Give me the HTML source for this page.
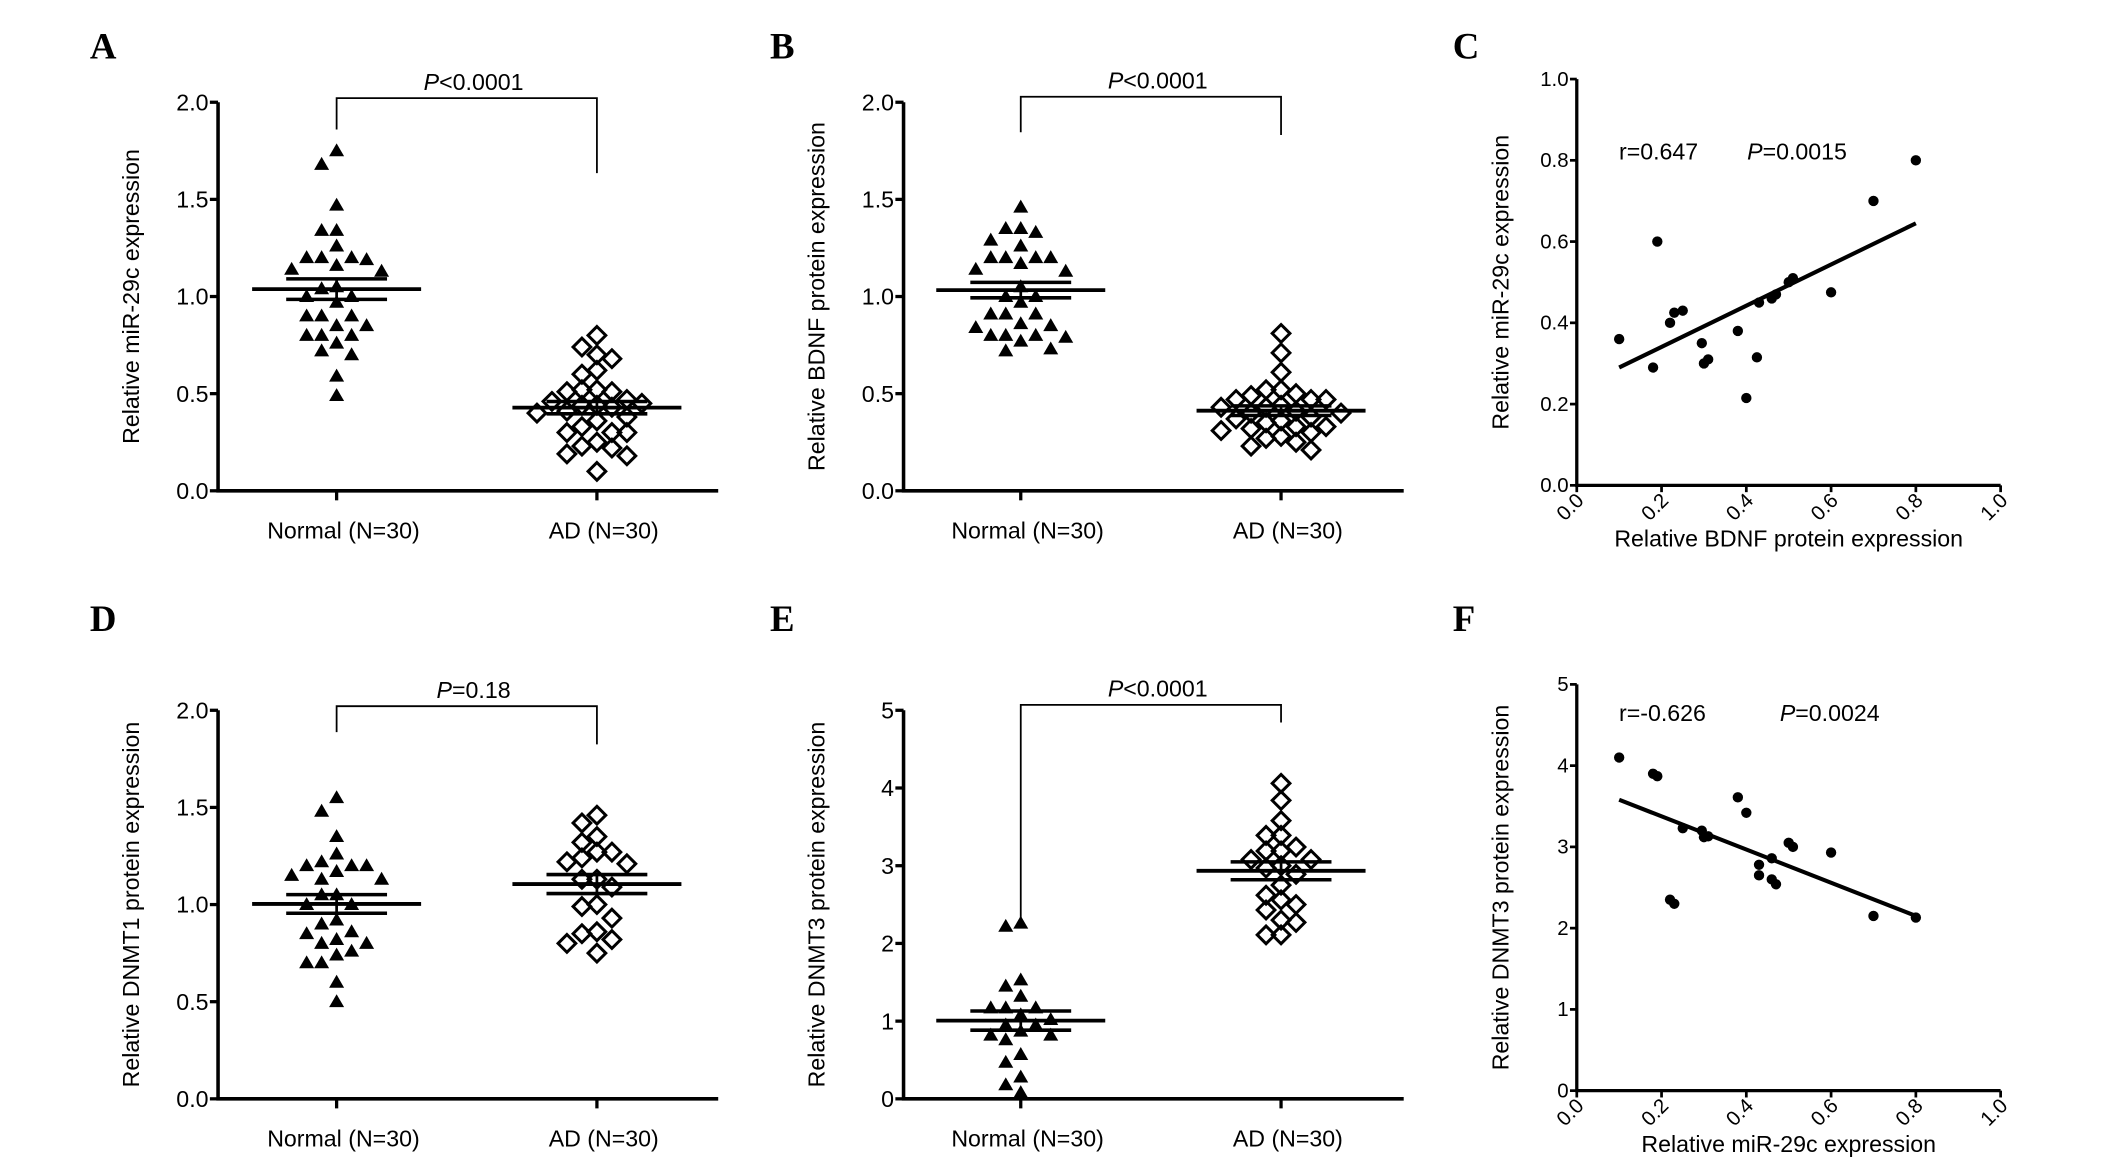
<!DOCTYPE html>
<html><head><meta charset="utf-8">
<style>
html,body{margin:0;padding:0;background:#fff;}
svg{display:block;}
text{font-family:"Liberation Sans",Arial,sans-serif;fill:#000;}
.lbl{font-family:"Liberation Serif",serif;font-weight:bold;font-size:27px;}
</style></head>
<body>
<svg id="fig" width="2126" height="1167" viewBox="0 0 1560 856" preserveAspectRatio="none" xmlns="http://www.w3.org/2000/svg">
<text class="lbl" x="66" y="43">A</text>
<text class="lbl" x="565" y="43">B</text>
<text class="lbl" x="1066" y="43">C</text>
<text class="lbl" x="66" y="463">D</text>
<text class="lbl" x="565" y="463">E</text>
<text class="lbl" x="1066" y="463">F</text>
</svg>
<script>
// ---- data ----
const categories = ["Normal (N=30)", "AD (N=30)"];
const aNormal = [1.75,1.68,1.47,1.34,1.34,1.26,1.20,1.20,1.20,1.19,1.16,1.14,1.13,1.05,1.04,1.00,1.00,0.97,0.90,0.90,0.90,0.85,0.85,0.80,0.80,0.80,0.76,0.72,0.70,0.59,0.49];
const aAD = [0.80,0.74,0.70,0.68,0.62,0.60,0.52,0.51,0.51,0.52,0.47,0.46,0.45,0.44,0.44,0.43,0.41,0.40,0.38,0.36,0.33,0.30,0.30,0.30,0.25,0.23,0.22,0.19,0.18,0.10];
const bNormal = [1.46,1.35,1.35,1.33,1.29,1.26,1.20,1.20,1.20,1.20,1.17,1.13,1.14,1.05,1.00,1.00,0.97,0.91,0.91,0.91,0.85,0.86,0.84,0.80,0.80,0.80,0.79,0.77,0.73,0.72];
const bAD = [0.81,0.71,0.61,0.52,0.52,0.50,0.49,0.47,0.47,0.47,0.44,0.43,0.43,0.41,0.40,0.40,0.38,0.37,0.36,0.35,0.33,0.33,0.32,0.31,0.30,0.28,0.27,0.25,0.23,0.21];
const dNormal = [1.55,1.48,1.35,1.26,1.22,1.20,1.20,1.20,1.17,1.15,1.13,1.13,1.05,1.05,1.00,1.00,0.92,0.90,0.86,0.85,0.82,0.80,0.80,0.76,0.74,0.70,0.70,0.60,0.50];
const dAD = [1.46,1.42,1.35,1.32,1.27,1.27,1.24,1.22,1.21,1.13,1.13,1.09,1.00,0.99,0.93,0.86,0.85,0.82,0.80,0.75];
const eNormal = [2.26,2.22,1.53,1.45,1.32,1.17,1.17,1.17,1.08,1.02,0.95,0.95,0.87,0.82,0.82,0.76,0.57,0.47,0.28,0.18,0.08];
const eAD = [4.06,3.84,3.58,3.39,3.39,3.24,3.19,3.19,3.08,3.08,3.00,2.97,2.89,2.75,2.62,2.56,2.50,2.43,2.30,2.27,2.11,2.11];
const cX = [0.10,0.18,0.19,0.22,0.23,0.25,0.295,0.30,0.31,0.38,0.40,0.425,0.43,0.46,0.47,0.50,0.51,0.60,0.70,0.80];
const cY = [0.36,0.29,0.60,0.40,0.425,0.43,0.35,0.30,0.31,0.38,0.215,0.315,0.45,0.46,0.47,0.50,0.51,0.475,0.70,0.80];
const cFit = [[0.10,0.29],[0.80,0.645]];
const fX = [0.10,0.18,0.19,0.25,0.295,0.30,0.31,0.22,0.23,0.38,0.40,0.43,0.43,0.46,0.46,0.47,0.50,0.51,0.60,0.70,0.80];
const fY = [4.10,3.90,3.87,3.23,3.20,3.12,3.13,2.35,2.30,3.61,3.42,2.78,2.65,2.86,2.60,2.54,3.05,3.00,2.93,2.15,2.13];
const fFit = [[0.10,3.58],[0.80,2.15]];
const ticks2 = ["0.0","0.5","1.0","1.5","2.0"];
const ticks5 = ["0","1","2","3","4","5"];
const ticks1 = ["0.0","0.2","0.4","0.6","0.8","1.0"];

const NS = "http://www.w3.org/2000/svg";
const svg = document.getElementById('fig');
function mk(tag, attrs, parent) {
  const e = document.createElementNS(NS, tag);
  for (const k in attrs) e.setAttribute(k, attrs[k]);
  (parent || svg).appendChild(e);
  return e;
}
function txt(x, y, s, size, anchor, parent) {
  const t = mk('text', {x: x, y: y, 'font-size': size, 'text-anchor': anchor || 'middle'}, parent);
  t.textContent = s;
  return t;
}

function dotPlot(cfg) {
  const g = mk('g', {});
  
  
  const y = v => cfg.y0 - (v - cfg.min) / (cfg.max - cfg.min) * (cfg.y0 - cfg.yTop);
  const ax = mk('path', {d: `M${cfg.x0},${cfg.yTop} V${cfg.y0} H${cfg.xEnd}`, stroke: '#000', 'stroke-width': 2.6, fill: 'none'}, g);
  
  
  cfg.ticks.forEach(function(lab, i) {
    const v = cfg.min + i * (cfg.max - cfg.min) / (cfg.ticks.length - 1);
    mk('line', {x1: cfg.x0 - 6, x2: cfg.x0, y1: y(v), y2: y(v), stroke: '#000', 'stroke-width': 2.4}, g);
    const t = txt(cfg.x0 - 7, y(v) + 6, lab, 17, 'end', g);
    
    
  });
  const yt = txt(0, 0, cfg.ytitle, 17, 'middle', g);
  yt.setAttribute('transform', `translate(${cfg.x0 - 58},${(cfg.y0 + cfg.yTop) / 2}) rotate(-90)`);
  
  
  const groups = [cfg.g1, cfg.g2];
  groups.forEach(function(vals, gi) {
    const cx = cfg.cats[gi];
    mk('line', {x1: cx, x2: cx, y1: cfg.y0, y2: cfg.y0 + 7, stroke: '#000', 'stroke-width': 2.4}, g);
    const cl = txt(cx + 5, cfg.y0 + 35, categories[gi], 17, 'middle', g);
    
    
    const placed = [];
    const sorted = vals.slice().sort((a, b) => b - a);
    sorted.forEach(function(v) {
      const py = y(v);
      let off = 0;
      for (let k = 0; k < 20; k++) {
        const cand = (k === 0) ? 0 : ((k % 2 ? -1 : 1) * Math.ceil(k / 2) * 11);
        if (!placed.some(p => Math.abs(p[0] - cand) < 10 && Math.abs(p[1] - py) < 10)) { off = cand; break; }
      }
      placed.push([off, py]);
      const px = cx + off;
      let m;
      if (gi === 0) {
        m = mk('path', {d: `M${px},${py - 5.5} L${px + 5.5},${py + 4} L${px - 5.5},${py + 4} Z`, fill: '#000'}, g);
        
      } else {
        m = mk('path', {d: `M${px},${py - 6.5} L${px + 6.5},${py} L${px},${py + 6.5} L${px - 6.5},${py} Z`, fill: 'none', stroke: '#000', 'stroke-width': 2.2}, g);
        
      }
      
    });
    const n = vals.length;
    const mean = vals.reduce((a, b) => a + b, 0) / n;
    const sd = Math.sqrt(vals.reduce((a, b) => a + (b - mean) * (b - mean), 0) / (n - 1));
    const sem = sd / Math.sqrt(n);
    const ml = mk('line', {x1: cx - 62, x2: cx + 62, y1: y(mean), y2: y(mean), stroke: '#000', 'stroke-width': 2.8}, g);
    
    
    [mean + sem, mean - sem].forEach(function(v) {
      const sl = mk('line', {x1: cx - 37, x2: cx + 37, y1: y(v), y2: y(v), stroke: '#000', 'stroke-width': 2.6}, g);
      
      
    });
    mk('line', {x1: cx, x2: cx, y1: y(mean + sem), y2: y(mean - sem), stroke: '#000', 'stroke-width': 2}, g);
  });
  const br = mk('path', {d: `M${cfg.cats[0]},${cfg.bl} V${cfg.by} H${cfg.cats[1]} V${cfg.brr}`, stroke: '#000', 'stroke-width': 1.3, fill: 'none'}, g);
  
  
  const pt = mk('text', {x: (cfg.cats[0] + cfg.cats[1]) / 2 + 5, y: cfg.by - 6, 'font-size': 17, 'text-anchor': 'middle'}, g);
  
  
  const ts = mk('tspan', {'font-style': 'italic'}, pt); ts.textContent = 'P';
  const ts2 = mk('tspan', {}, pt); ts2.textContent = cfg.p;
}

function scatter(cfg) {
  const g = mk('g', {});
  
  
  const x = v => cfg.x0 + v * (cfg.xEnd - cfg.x0);
  const y = v => cfg.y0 - v / cfg.ymax * (cfg.y0 - cfg.yTop);
  const ax = mk('path', {d: `M${cfg.x0},${cfg.yTop} V${cfg.y0} H${cfg.xEnd}`, stroke: '#000', 'stroke-width': 2.4, fill: 'none'}, g);
  
  
  cfg.yticks.forEach(function(lab, i) {
    const v = i * cfg.ymax / (cfg.yticks.length - 1);
    mk('line', {x1: cfg.x0 - 5, x2: cfg.x0, y1: y(v), y2: y(v), stroke: '#000', 'stroke-width': 2}, g);
    const t = txt(cfg.x0 - 6, y(v) + 5, lab, 15, 'end', g);
    
    
  });
  ticks1.forEach(function(lab, i) {
    const v = i / (ticks1.length - 1);
    mk('line', {x1: x(v), x2: x(v), y1: cfg.y0, y2: cfg.y0 + 5, stroke: '#000', 'stroke-width': 2}, g);
    const t = txt(0, 0, lab, 15, 'end', g);
    t.setAttribute('transform', `translate(${x(v) + 6},${cfg.y0 + 12}) rotate(-45)`);
    
    
  });
  const yt = txt(0, 0, cfg.ytitle, 17, 'middle', g);
  yt.setAttribute('transform', `translate(${cfg.x0 - 50},${(cfg.y0 + cfg.yTop) / 2}) rotate(-90)`);
  
  
  const xt = txt((cfg.x0 + cfg.xEnd) / 2, cfg.y0 + 45, cfg.xtitle, 17, 'middle', g);
  
  
  const fl = mk('line', {x1: x(cfg.fit[0][0]), y1: y(cfg.fit[0][1]), x2: x(cfg.fit[1][0]), y2: y(cfg.fit[1][1]), stroke: '#000', 'stroke-width': 3}, g);
  
  
  cfg.xs.forEach(function(xv, i) {
    const c = mk('circle', {cx: x(xv), cy: y(cfg.ys[i]), r: 3.8, fill: '#000'}, g);
    
    
  });
  const rt = txt(cfg.x0 + 31, cfg.statY, cfg.r, 17, 'start', g);
  
  
  const pt = mk('text', {x: cfg.pX, y: cfg.statY, 'font-size': 17}, g);
  
  
  const ts = mk('tspan', {'font-style': 'italic'}, pt); ts.textContent = 'P';
  const ts2 = mk('tspan', {}, pt); ts2.textContent = cfg.p;
}

dotPlot({name: 'panel-a', x0: 160, xEnd: 527, y0: 360, yTop: 75, min: 0, max: 2, ticks: ticks2, cats: [247, 438], g1: aNormal, g2: aAD, ytitle: 'Relative miR-29c expression', by: 72, bl: 95, brr: 127, p: '<0.0001'});
dotPlot({name: 'panel-b', x0: 663, xEnd: 1030, y0: 360, yTop: 75, min: 0, max: 2, ticks: ticks2, cats: [749, 940], g1: bNormal, g2: bAD, ytitle: 'Relative BDNF protein expression', by: 71, bl: 97, brr: 99, p: '<0.0001'});
dotPlot({name: 'panel-d', x0: 160, xEnd: 527, y0: 806, yTop: 521, min: 0, max: 2, ticks: ticks2, cats: [247, 438], g1: dNormal, g2: dAD, ytitle: 'Relative DNMT1 protein  expression', by: 518, bl: 537, brr: 546, p: '=0.18'});
dotPlot({name: 'panel-e', x0: 663, xEnd: 1030, y0: 806, yTop: 521, min: 0, max: 5, ticks: ticks5, cats: [749, 940], g1: eNormal, g2: eAD, ytitle: 'Relative DNMT3 protein expression', by: 517, bl: 680, brr: 530, p: '<0.0001'});
scatter({name: 'panel-c', x0: 1157, xEnd: 1468, y0: 356, yTop: 58, ymax: 1, yticks: ticks1, xs: cX, ys: cY, fit: cFit, ytitle: 'Relative miR-29c expression', xtitle: 'Relative BDNF protein expression', r: 'r=0.647', p: '=0.0015', statY: 117, pX: 1282});
scatter({name: 'panel-f', x0: 1157, xEnd: 1468, y0: 800, yTop: 502, ymax: 5, yticks: ticks5, xs: fX, ys: fY, fit: fFit, ytitle: 'Relative DNMT3 protein expression', xtitle: 'Relative miR-29c expression', r: 'r=-0.626', p: '=0.0024', statY: 529, pX: 1306});
</script>
</body></html>
